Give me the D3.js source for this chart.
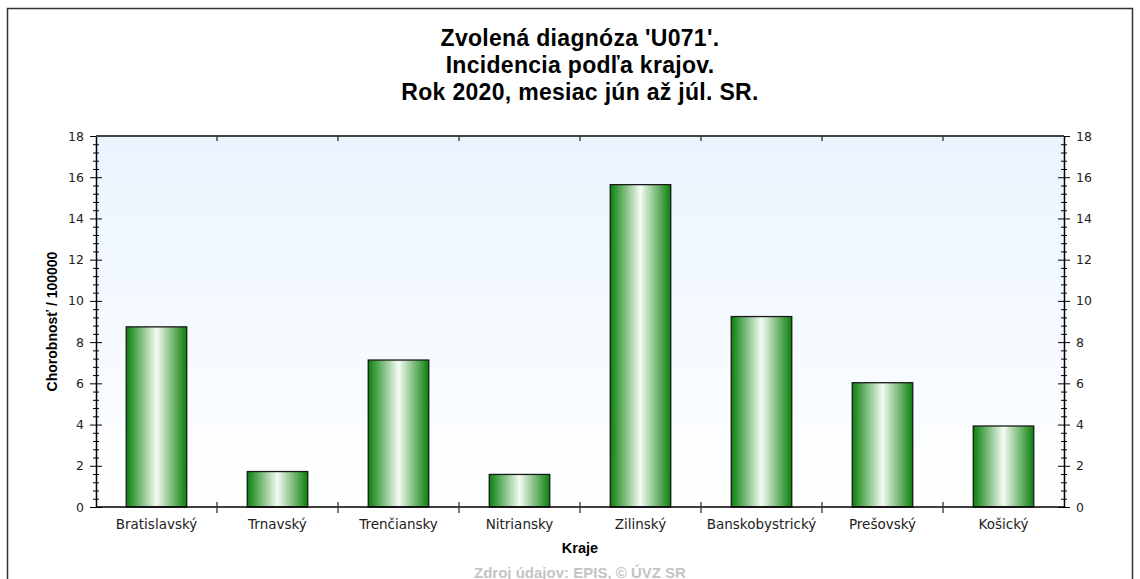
<!DOCTYPE html>
<html>
<head>
    <meta charset="utf-8">
    <title>Zvolená diagnóza 'U071'</title>
    <script src="https://d3js.org/d3.v7.min.js"></script>
    <style>
        body { margin: 0; background: #fff; }
        svg { display: block; }
    </style>
</head>
<body>
<svg id="chart" width="1140" height="579"></svg>
<script>
    var kraje = ["Bratislavský", "Trnavský", "Trenčiansky", "Nitriansky", "Zilinský", "Banskobystrický", "Prešovský", "Košický"];
    var chorobnost = [8.74, 1.72, 7.13, 1.58, 15.64, 9.24, 6.03, 3.93];
    var yTicks = [0, 2, 4, 6, 8, 10, 12, 14, 16, 18];
    var titleLines = ["Zvolená diagnóza 'U071'.", "Incidencia podľa krajov.", "Rok 2020, mesiac jún až júl. SR."];

    var svg = d3.select("#chart");
    var pLeft = 96, pRight = 1064, pTop = 136, pBottom = 507;

    var x = d3.scaleBand().domain(kraje).range([pLeft, pRight]).paddingInner(0.5).paddingOuter(0.25);
    var y = d3.scaleLinear().domain([0, 18]).range([pBottom, pTop]);

    var defs = svg.append("defs");
    var bg = defs.append("linearGradient").attr("id", "bg").attr("x1", 0).attr("y1", 0).attr("x2", 0).attr("y2", 1);
    bg.append("stop").attr("offset", "0%").attr("stop-color", "#eaf4ff");
    bg.append("stop").attr("offset", "100%").attr("stop-color", "#ffffff");

    var bar = defs.append("linearGradient").attr("id", "bar").attr("x1", 0).attr("y1", 0).attr("x2", 1).attr("y2", 0);
    bar.append("stop").attr("offset", "0%").attr("stop-color", "#0b800b");
    bar.append("stop").attr("offset", "50%").attr("stop-color", "#f4fbf4");
    bar.append("stop").attr("offset", "100%").attr("stop-color", "#0b800b");

    // outer frame
    svg.append("rect")
        .attr("x", 7.5).attr("y", 8.5).attr("width", 1125).attr("height", 600)
        .attr("fill", "#fff").attr("stroke", "#333").attr("stroke-width", 1.5);

    // plot background
    svg.append("rect")
        .attr("x", pLeft).attr("y", pTop).attr("width", pRight - pLeft).attr("height", pBottom - pTop)
        .attr("fill", "url(#bg)");

    // title
    svg.append("g").selectAll("text")
        .data(titleLines)
        .enter().append("text")
        .attr("x", 580)
        .attr("y", function(d, i) { return 46 + i * 27; })
        .attr("text-anchor", "middle")
        .style("font-family", "Liberation Sans, Arial, sans-serif")
        .style("font-weight", "bold")
        .style("font-size", "23px")
        .style("letter-spacing", "0.3px")
        .style("fill", "#000")
        .text(function(d) { return d; });

    // bars
    svg.append("g").selectAll("rect")
        .data(chorobnost)
        .enter().append("rect")
        .attr("x", function(d, i) { return x(kraje[i]); })
        .attr("y", function(d) { return y(d); })
        .attr("width", x.bandwidth())
        .attr("height", function(d) { return pBottom - y(d); })
        .attr("fill", "url(#bar)")
        .attr("stroke", "#1a1a1a")
        .attr("stroke-width", 1.3);

    var tickFont = "DejaVu Sans, Verdana, sans-serif";

    // y axes with minor ticks
    var minor = d3.range(0, 18.01, 0.4).filter(function(v) { return Math.abs(v / 2 - Math.round(v / 2)) > 0.01; });

    function yAxis(gen, xpos) {
        var g = svg.append("g").attr("transform", "translate(" + xpos + ",0)");
        g.call(gen.tickValues(minor).tickSize(3).tickFormat(""));
        g.selectAll(".tick line").attr("x1", -3).attr("x2", 3).attr("stroke", "#000");
        g.select(".domain").remove();
        var g2 = svg.append("g").attr("transform", "translate(" + xpos + ",0)");
        g2.call(gen.tickValues(yTicks).tickSize(6).tickFormat(d3.format("d")).tickSizeOuter(0));
        g2.selectAll(".tick line").attr("x1", -6).attr("x2", 6).attr("stroke", "#000");
        g2.select(".domain").attr("stroke", "#000").attr("stroke-width", 1.5);
        g2.selectAll("text")
            .style("font-family", tickFont).style("font-size", "12.5px").style("fill", "#222");
        return g2;
    }

    var yl = yAxis(d3.axisLeft(y), pLeft);
    yl.selectAll("text").attr("x", -12);
    var yr = yAxis(d3.axisRight(y), pRight);
    yr.selectAll("text").attr("x", 12);

    // x axis with ticks at category boundaries
    var bounds = d3.range(1, kraje.length).map(function(i) { return pLeft + i * (pRight - pLeft) / kraje.length; });
    svg.append("line").attr("x1", pLeft).attr("x2", pRight).attr("y1", pBottom).attr("y2", pBottom)
        .attr("stroke", "#000").attr("stroke-width", 1.5);
    svg.append("line").attr("x1", pLeft).attr("x2", pRight).attr("y1", pTop).attr("y2", pTop)
        .attr("stroke", "#444").attr("stroke-width", 2);
    svg.append("g").selectAll("line").data(bounds).enter().append("line")
        .attr("x1", function(d) { return d; }).attr("x2", function(d) { return d; })
        .attr("y1", pBottom - 5).attr("y2", pBottom + 6)
        .attr("stroke", "#333").attr("stroke-width", 1.3);
    svg.append("g").selectAll("line").data(bounds).enter().append("line")
        .attr("x1", function(d) { return d; }).attr("x2", function(d) { return d; })
        .attr("y1", pTop).attr("y2", pTop + 5)
        .attr("stroke", "#333").attr("stroke-width", 1.3);

    svg.append("g").selectAll("text")
        .data(kraje)
        .enter().append("text")
        .attr("x", function(d) { return x(d) + x.bandwidth() / 2; })
        .attr("y", 529)
        .attr("text-anchor", "middle")
        .style("font-family", tickFont).style("font-size", "13.5px").style("fill", "#222")
        .text(function(d) { return d; });

    // axis titles
    svg.append("text")
        .attr("transform", "translate(57," + ((pTop + pBottom) / 2) + ") rotate(-90)")
        .attr("text-anchor", "middle")
        .style("font-family", "Liberation Sans, Arial, sans-serif").style("font-weight", "bold").style("font-size", "14px")
        .text("Chorobnosť / 100000");

    svg.append("text")
        .attr("x", 580).attr("y", 553)
        .attr("text-anchor", "middle")
        .style("font-family", "Liberation Sans, Arial, sans-serif").style("font-weight", "bold").style("font-size", "14.5px")
        .text("Kraje");

    svg.append("text")
        .attr("x", 580).attr("y", 578)
        .attr("text-anchor", "middle")
        .style("font-family", "Liberation Sans, Arial, sans-serif").style("font-weight", "bold").style("font-size", "15px")
        .style("fill", "#c4c4c4")
        .text("Zdroj údajov: EPIS, © ÚVZ SR");
</script>
</body>
</html>
